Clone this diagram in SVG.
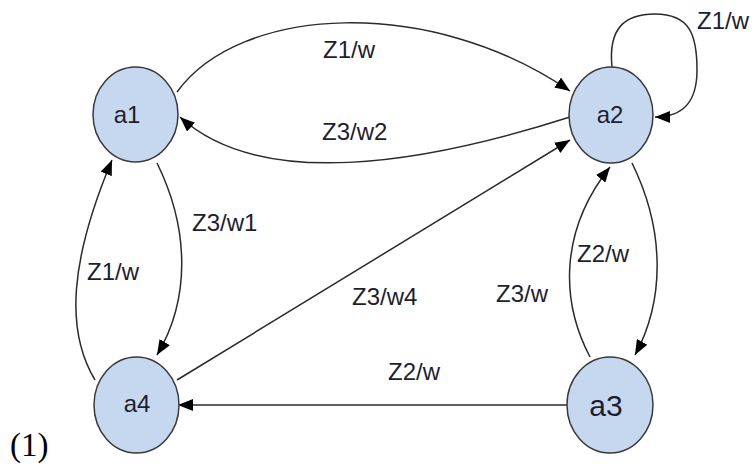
<svg xmlns="http://www.w3.org/2000/svg" width="756" height="466" viewBox="0 0 756 466">
<style>
.node{fill:#c6d8ef;stroke:#3a3a3a;stroke-width:1.5}
.nl{font-family:"Liberation Sans",Arial,sans-serif;font-size:24px;fill:#1e1e30;text-anchor:middle}
.el{font-family:"Liberation Sans",Arial,sans-serif;font-size:24px;fill:#1e1e30}
.edge{fill:none;stroke:#2a2a2a;stroke-width:1.5;marker-end:url(#ah)}
</style>
<defs>
<marker id="ah" markerUnits="userSpaceOnUse" markerWidth="16" markerHeight="12" refX="15" refY="6" orient="auto">
<path d="M0,0 L15,6 L0,12 Z" fill="#000"/>
</marker>
</defs>
<rect width="756" height="466" fill="#fff"/>
<g id="connectors">
<path class="edge" d="M177,92 C240,5 430,-5 570,91"/>
<path class="edge" d="M570,117 C420,165 260,190 180,117"/>
<path class="edge" d="M612,67 C608,28 625,14 655,14 C690,14 697,35 697,70 C697,100 685,117 655,117"/>
<path class="edge" d="M157,163 C190,230 190,300 157,355"/>
<path class="edge" d="M95,380 C65,330 70,260 112,160"/>
<path class="edge" d="M177,380 L570,140"/>
<path class="edge" d="M567,405 L178,405"/>
<path class="edge" d="M632,163 C665,230 665,300 635,355"/>
<path class="edge" d="M590,357 C560,300 560,230 610,167"/>
</g>
<g id="labels">
<text class="el" x="323" y="58">Z1/w</text>
<text class="el" x="322" y="140">Z3/w2</text>
<text class="el" x="697" y="29">Z1/w</text>
<text class="el" x="192" y="231">Z3/w1</text>
<text class="el" x="352" y="305">Z3/w4</text>
<text class="el" x="496" y="302">Z3/w</text>
<text class="el" x="388" y="380">Z2/w</text>
<text class="el" x="87" y="280">Z1/w</text>
<text class="el" x="577" y="262">Z2/w</text>
</g>
<g id="a1"><ellipse class="node" cx="135.5" cy="114.5" rx="42.5" ry="47.5"/><text class="nl" x="127" y="123">a1</text></g>
<g id="a2"><ellipse class="node" cx="611" cy="115" rx="42" ry="48"/><text class="nl" x="610" y="123">a2</text></g>
<g id="a4"><ellipse class="node" cx="136.5" cy="405" rx="42.5" ry="48"/><text class="nl" x="137" y="412">a4</text></g>
<g id="a3"><ellipse class="node" cx="610" cy="405" rx="43" ry="48"/><text class="nl" x="606" y="416" style="font-size:30px">a3</text></g>
<text x="10" y="456" style="font-family:'Liberation Serif','Times New Roman',serif;font-size:33px;fill:#000">(1)</text>
</svg>
